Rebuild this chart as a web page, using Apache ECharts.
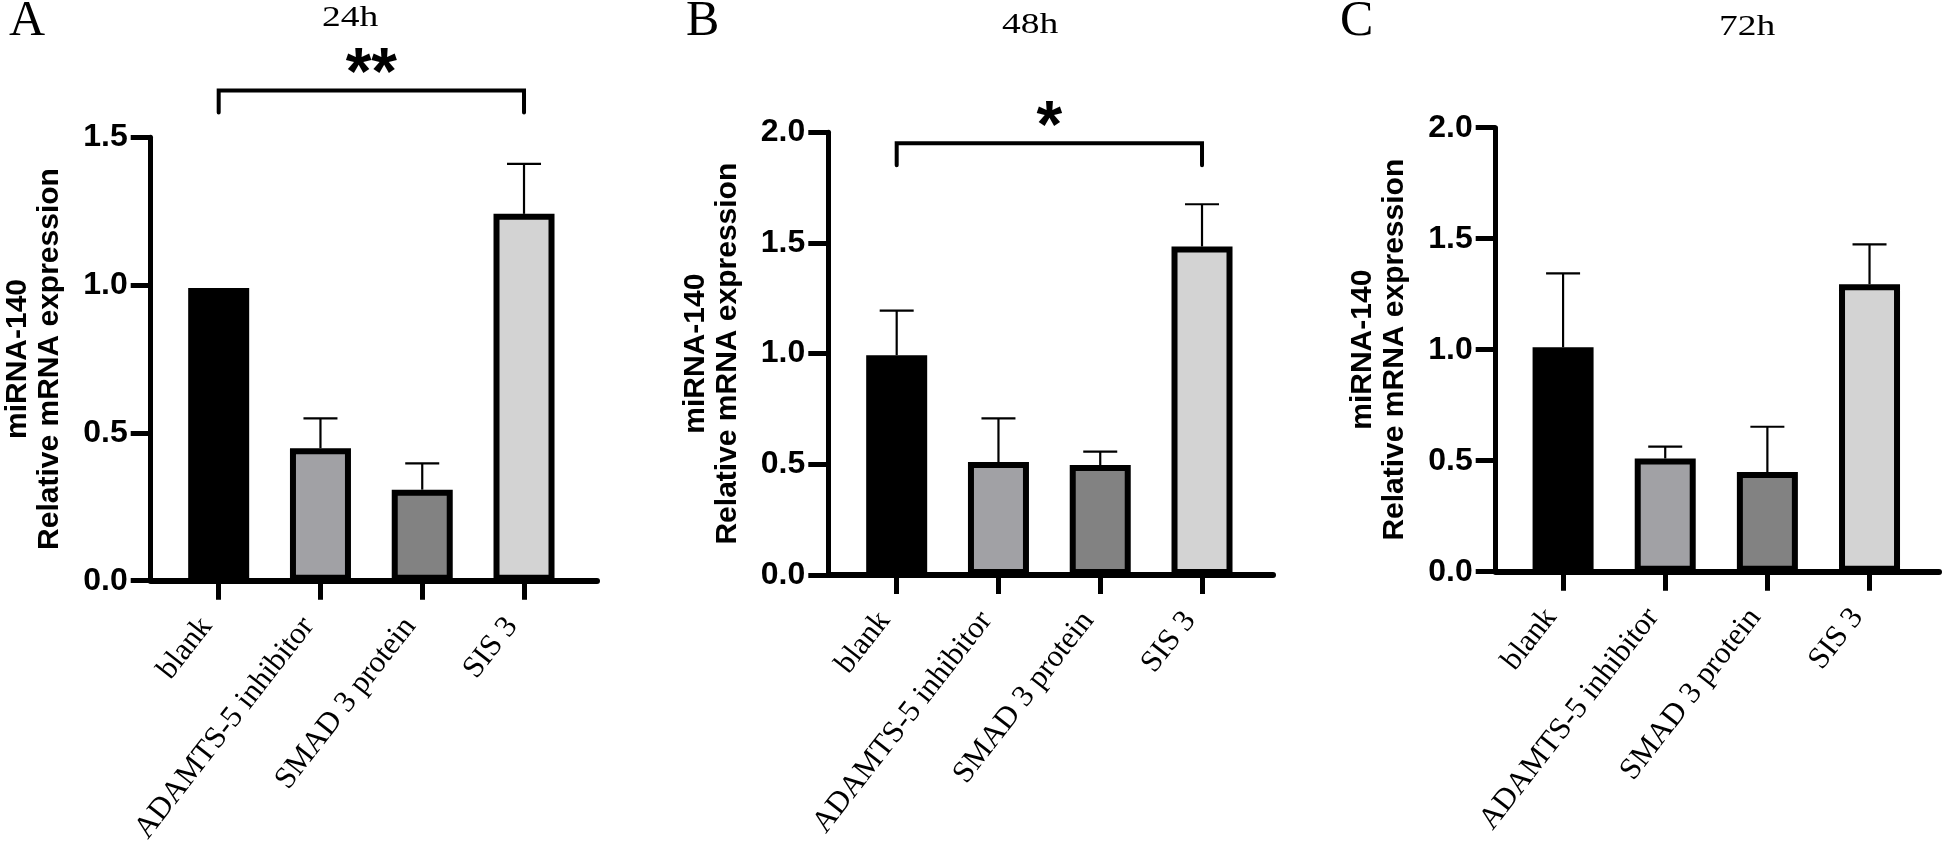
<!DOCTYPE html>
<html><head><meta charset="utf-8">
<script src="https://cdn.jsdelivr.net/npm/echarts@6/dist/echarts.min.js"></script>
<style>html,body{margin:0;padding:0;background:#fff}#c{width:1943px;height:842px}</style>
</head><body><div id="c"></div>
<script>
// ---------- data ----------
const categories = ['blank', 'ADAMTS-5 inhibitor', 'SMAD 3 protein', 'SIS 3'];
const panelLetters = ['A', 'B', 'C'];
const panelTitles = ['24h', '48h', '72h'];
const yMax = [1.5, 2.0, 2.0];
const yInterval = 0.5;
const yAxisName = 'miRNA-140\nRelative mRNA expression';

const mean24 = [0.99, 0.448, 0.308, 1.241];
const sem24  = [0, 0.101, 0.089, 0.169];
const mean48 = [0.993, 0.51, 0.497, 1.484];
const sem48  = [0.201, 0.198, 0.060, 0.191];
const mean72 = [1.011, 0.51, 0.449, 1.295];
const sem72  = [0.333, 0.053, 0.204, 0.179];

// significance brackets: [label, fromIndex, toIndex, level]
const sig24 = ['**', 0, 3, 1.658];
const sig48 = ['*', 0, 3, 1.950];
const sig72 = null;

// ---------- style / layout ----------
const barColors = ['#000000', '#a1a1a5', '#828282', '#d3d3d3'];
const SANS = '"Liberation Sans", Arial, sans-serif';
const SERIF = '"Liberation Serif", "Times New Roman", serif';

const layout = [
  { axisX: 150.7, axisRight: 597, top: 137.3, bottom: 580.7, barL: 167.8, barR: 574.9,
    letterX: 9, titleX: 350, titleMidY: 18 },
  { axisX: 828.3, axisRight: 1273, top: 132.3, bottom: 575, barL: 845.8, barR: 1252.9,
    letterX: 686, titleX: 1030, titleMidY: 25 },
  { axisX: 1495.7, axisRight: 1939, top: 127.7, bottom: 571.7, barL: 1512, barR: 1920.6,
    letterX: 1340, titleX: 1747, titleMidY: 27 }
];

const means = [mean24, mean48, mean72];
const sems = [sem24, sem48, sem72];
const sigs = [sig24, sig48, sig72];

const grid = [], xAxis = [], yAxis = [], series = [], title = [], graphic = [];

layout.forEach((L, i) => {
  const h = L.bottom - L.top;
  grid.push({ left: L.axisX, top: L.top, width: L.axisRight - L.axisX, height: h, outerBoundsMode: 'none' });
  grid.push({ left: L.barL, top: L.top, width: L.barR - L.barL, height: h, outerBoundsMode: 'none' });

  xAxis.push({
    type: 'category', gridIndex: 2 * i, data: categories,
    axisLine: { show: true, lineStyle: { color: '#000', width: 6 } },
    axisTick: { show: false }, axisLabel: { show: false }, splitLine: { show: false }
  });
  xAxis.push({
    type: 'category', gridIndex: 2 * i + 1, data: categories,
    axisLine: { show: false },
    axisTick: { show: true, alignWithLabel: true, length: 19, lineStyle: { color: '#000', width: 5 } },
    axisLabel: {
      show: true, interval: 0, rotate: 52, margin: 50, verticalAlign: 'bottom',
      fontFamily: SERIF, fontSize: 31, color: '#000'
    },
    splitLine: { show: false }
  });

  yAxis.push({
    type: 'value', gridIndex: 2 * i, min: 0, max: yMax[i], interval: yInterval,
    axisLine: { show: true, lineStyle: { color: '#000', width: 5 } },
    axisTick: { show: true, length: 20, lineStyle: { color: '#000', width: 5 } },
    axisLabel: {
      show: true, margin: 23, fontFamily: SANS, fontWeight: 'bold', fontSize: 32, color: '#000',
      formatter: v => v.toFixed(1)
    },
    splitLine: { show: false },
    name: yAxisName, nameLocation: 'middle', nameRotate: 90, nameGap: 85,
    nameTextStyle: { fontFamily: SANS, fontWeight: 'bold', fontSize: 30, lineHeight: 32, color: '#000' }
  });
  yAxis.push({
    type: 'value', gridIndex: 2 * i + 1, min: 0, max: yMax[i], interval: yInterval, show: false
  });

  const m = means[i], s = sems[i];
  series.push({
    type: 'bar', xAxisIndex: 2 * i + 1, yAxisIndex: 2 * i + 1, barWidth: 61,
    data: m.map((v, j) => ({ value: v, itemStyle: { color: barColors[j] } })),
    itemStyle: { borderColor: '#000', borderWidth: 6 },
    emphasis: { disabled: true }, animation: false, z: 2
  });
  series.push({
    type: 'custom', xAxisIndex: 2 * i + 1, yAxisIndex: 2 * i + 1,
    data: m.map((v, j) => [j, v, v + s[j]]),
    renderItem: (params, api) => {
      const lo = api.coord([api.value(0), api.value(1)]);
      const hi = api.coord([api.value(0), api.value(2)]);
      if (Math.abs(lo[1] - hi[1]) < 0.5) return null;
      return {
        type: 'group', children: [
          { type: 'line', shape: { x1: lo[0], y1: lo[1], x2: hi[0], y2: hi[1] }, style: { stroke: '#000', lineWidth: 2.2 } },
          { type: 'line', shape: { x1: hi[0] - 17, y1: hi[1], x2: hi[0] + 17, y2: hi[1] }, style: { stroke: '#000', lineWidth: 2.2 } }
        ]
      };
    },
    animation: false, z: 3, clip: false
  });
  const sig = sigs[i];
  if (sig) {
    series.push({
      type: 'custom', xAxisIndex: 2 * i + 1, yAxisIndex: 2 * i + 1,
      data: [[sig[1], sig[2], sig[3]]],
      renderItem: (params, api) => {
        const p0 = api.coord([api.value(0), api.value(2)]);
        const p1 = api.coord([api.value(1), api.value(2)]);
        return {
          type: 'group', children: [
            { type: 'polyline', shape: { points: [[p0[0], p0[1] + 22], [p0[0], p0[1]], [p1[0], p1[1]], [p1[0], p1[1] + 22]] },
              style: { stroke: '#000', lineWidth: 4, fill: null, lineCap: 'round', lineJoin: 'miter' } },
            { type: 'text', x: (p0[0] + p1[0]) / 2, y: p0[1] - 15,
              style: { text: sig[0], fill: '#000', font: 'bold 66px ' + SANS, align: 'center', verticalAlign: 'middle' } }
          ]
        };
      },
      animation: false, z: 4, clip: false
    });
  }

  title.push({ text: panelLetters[i], left: L.letterX, top: -3, padding: 0,
    textStyle: { fontFamily: SERIF, fontWeight: 'normal', fontSize: 50, color: '#000' } });
  graphic.push({
    type: 'text', x: L.titleX, y: L.titleMidY, scaleX: 1.25, scaleY: 1,
    style: { text: panelTitles[i], font: '30px ' + SERIF, fill: '#000', align: 'center', verticalAlign: 'middle' }
  });
});

const chart = echarts.init(document.getElementById('c'), null, { renderer: 'canvas' });
chart.setOption({ backgroundColor: '#fff', animation: false, title, graphic, grid, xAxis, yAxis, series });
</script></body></html>
